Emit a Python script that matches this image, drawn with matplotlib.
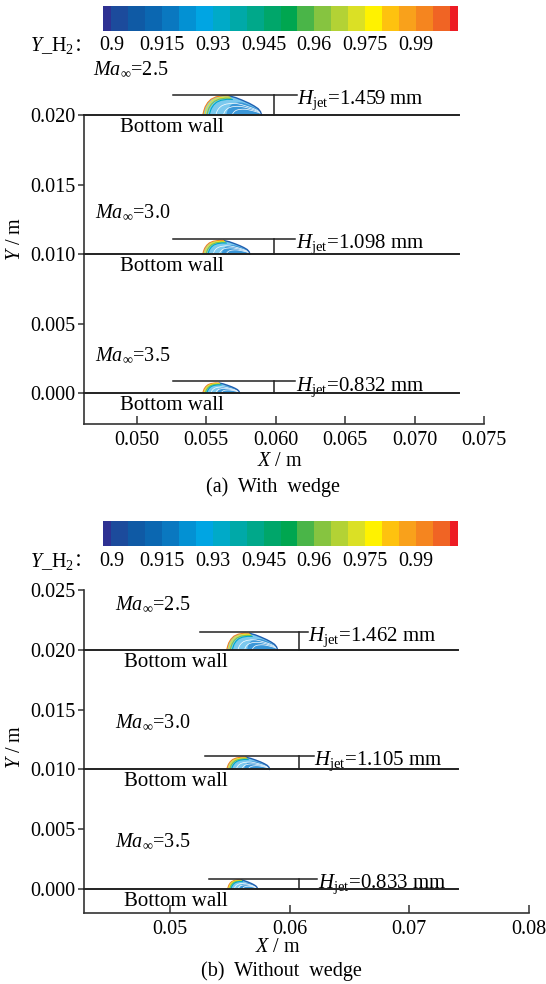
import numpy as np
import matplotlib
matplotlib.use('Agg')
import matplotlib.pyplot as plt

plt.rcParams['font.family'] = ['Liberation Serif', 'Noto Sans CJK SC']
plt.rcParams['mathtext.fontset'] = 'custom'
plt.rcParams['mathtext.rm'] = 'Liberation Serif'
plt.rcParams['mathtext.it'] = 'Liberation Serif:italic'
plt.rcParams['font.size'] = 14.5

# ---- дані ----
mach = ['2.5', '3.0', '3.5']
wall_y = [0.020, 0.010, 0.000]

# (a) з клином
hjet_a = [1.459, 1.098, 0.832]          # мм
plume_x0_a = [0.05475, 0.05475, 0.05475]
plume_len_a = [0.00424, 0.00340, 0.00266]
plume_h_a = [0.00142, 0.00100, 0.00074]
hline_x_a = [(0.0526, 0.0615), (0.0526, 0.0614), (0.0526, 0.0614)]
hbar_x_a = 0.0599
ma_pos_a = [(0.04685, 0.02324), (0.0470, 0.01295), (0.0470, 0.00266)]

# (b) без клина
hjet_b = [1.462, 1.105, 0.833]
plume_x0_b = [0.05475, 0.05475, 0.05483]
plume_len_b = [0.00425, 0.00360, 0.00250]
plume_h_b = [0.00142, 0.00104, 0.00078]
hline_x_b = [(0.0525, 0.0615), (0.0529, 0.0620), (0.0533, 0.0623)]
hbar_x_b = 0.0608
ma_pos_b = [(0.0454, 0.02376), (0.0454, 0.01393), (0.0454, 0.00393)]

# форма струменя (частки довжини / висоти)
shape_x = [0, 0.017, 0.04, 0.084, 0.14, 0.225, 0.34, 0.45, 0.56, 0.67, 0.79, 0.87, 0.94, 0.98, 1.0]
shape_y = [0, 0.20, 0.41, 0.63, 0.80, 0.92, 0.98, 0.97, 0.88, 0.75, 0.59, 0.46, 0.32, 0.17, 0]

# шкала Y_H2
cbar_bounds = [0.8975] + [round(0.9 + 0.005 * i, 4) for i in range(21)] + [1.0025]
cbar_colors = ['#2e3192', '#1c4b9c', '#0f5aa5', '#0b67b1', '#0a78c0', '#0391d3',
               '#00a5e3', '#00aac8', '#00a9a8', '#00a88a', '#00a66a', '#00a650',
               '#4ab548', '#86c440', '#b3d235', '#dbe025', '#fff200', '#fec20f',
               '#f9a11b', '#f5851f', '#f06424', '#ed1c24']
cbar_ticks = [0.9, 0.915, 0.93, 0.945, 0.96, 0.975, 0.99]
cbar_labels = ['0.9', '0.915', '0.93', '0.945', '0.96', '0.975', '0.99']

W, H = 546, 984
fig = plt.figure(figsize=(W / 100, H / 100), dpi=100)


def fx(px):
    return px / W


def fy(py):
    return 1 - py / H


def colorbar(top):
    ax = fig.add_axes([fx(103), fy(top + 25), fx(355), 25 / H])
    b = np.array(cbar_bounds)
    ax.bar(b[:-1], 1, width=np.diff(b), color=cbar_colors, align='edge', lw=0)
    ax.set_xlim(b[0], b[-1])
    ax.set_ylim(0, 1)
    ax.axis('off')
    for v, s in zip(cbar_ticks, cbar_labels):
        ax.text(v, -0.6, s, transform=ax.get_xaxis_transform(), ha='center', va='center')
    t = fig.text(fx(30), fy(top + 40), r'$Y$_H$_2$', ha='left', va='center')
    fig.add_artist(matplotlib.text.Annotation('：', xy=(1, 0.5), xycoords=t, va='center',
                                              ha='left', family=['Noto Sans CJK SC'], fontsize=13))


def draw_plume(ax, x0, L, h, yb):
    sx = np.array(shape_x)
    sy = np.array(shape_y)
    X = x0 + sx * L
    Y = yb + sy * h
    ax.fill(X, Y, color='#7cc9ee', lw=0, clip_on=False, zorder=3)
    # права частина - синя
    Xi = x0 + 0.4 * L + sx * 0.6 * L
    Yi = yb + sy * 0.65 * h
    ax.fill(Xi, Yi, color='#3b97d8', lw=0, clip_on=False, zorder=3)
    for d, f in [(0.22, 0.6), (0.35, 0.45), (0.5, 0.3)]:
        ax.plot(x0 + d * L + sx * (1 - d) * L, yb + sy * f * h, color='white', lw=0.5,
                clip_on=False, zorder=4)
    m = sx >= 0.4
    ax.plot(X[m], Y[m], color='#1f5fb0', lw=1.0, clip_on=False, zorder=5)
    # ліві райдужні дуги
    arcs = [('#f5851f', 0.0, 1.0), ('#f5e51e', 0.035, 0.93), ('#86c440', 0.07, 0.87),
            ('#00a9c8', 0.11, 0.81)]
    k = sx <= 0.5
    for c, d, f in arcs:
        ax.plot(x0 + d * L + sx[k] * (1 - d) * L, yb + sy[k] * f * h, color=c, lw=0.8,
                clip_on=False, zorder=5, solid_capstyle='butt')


def panel(ax, xlim, ylim, xticks, xfmt, yticks, wall_end, hjet, x0s, lens, hs,
          hlines, hbar, ma_pos, bw_x):
    ax.set_xlim(*xlim)
    ax.set_ylim(*ylim)
    for s in ['top', 'right']:
        ax.spines[s].set_visible(False)
    for s in ['left', 'bottom']:
        ax.spines[s].set_linewidth(1.2)
        ax.spines[s].set_color('#333333')
    ax.set_xticks(xticks)
    ax.set_xticklabels([xfmt % v for v in xticks])
    ax.set_yticks(yticks)
    ax.set_yticklabels(['%.3f' % v for v in yticks])
    ax.tick_params(axis='x', direction='in', length=6, width=1.1, pad=5, color='#333333')
    ax.tick_params(axis='y', direction='out', length=4, width=1.1, pad=2, color='#333333')
    for i, yb in enumerate(wall_y):
        ax.plot([xlim[0], wall_end], [yb, yb], color='#222222', lw=1.4, clip_on=False, zorder=6)
        draw_plume(ax, x0s[i], lens[i], hs[i], yb)
        yh = yb + hjet[i] / 1000
        ax.plot(hlines[i], [yh, yh], color='#222222', lw=1.1, clip_on=False, zorder=6)
        ax.plot([hbar, hbar], [yb, yh], color='#222222', lw=1.1, clip_on=False, zorder=6)
        ax.annotate(r'$H_{\rm jet}$=%.3f mm' % hjet[i], xy=(hlines[i][1], yh),
                    xytext=(0.5, 4.6), textcoords='offset points', ha='left', va='top',
                    fontsize=15, annotation_clip=False)
        ax.text(ma_pos[i][0], ma_pos[i][1], r'$Ma_{\infty}$=' + mach[i], ha='left',
                va='center', fontsize=14.5, clip_on=False)
        ax.annotate('Bottom wall', xy=(bw_x, yb), xytext=(0, -2), textcoords='offset points',
                    ha='left', va='top', fontsize=15, annotation_clip=False)


# (a)
colorbar(6)
axa = fig.add_axes([fx(84), fy(424), fx(400), 309 / H])
panel(axa, (0.0462, 0.075), (-0.00223, 0.020), [0.050, 0.055, 0.060, 0.065, 0.070, 0.075],
      '%.3f', [0.0, 0.005, 0.010, 0.015, 0.020], 0.0732, hjet_a, plume_x0_a, plume_len_a,
      plume_h_a, hline_x_a, hbar_x_a, ma_pos_a, 0.0488)
fig.text(fx(16), fy(239), r'$Y$ / m', rotation=90, ha='center', va='center')
fig.text(fx(280), fy(461), r'$X$ / m', ha='center', va='center')
fig.text(fx(273), fy(487), '(a)  With  wedge', ha='center', va='center')

# (b)
colorbar(521)
axb = fig.add_axes([fx(84), fy(913), fx(445), 323 / H])
panel(axb, (0.04283, 0.08), (-0.00201, 0.025), [0.05, 0.06, 0.07, 0.08], '%.2f',
      [0.0, 0.005, 0.010, 0.015, 0.020, 0.025], 0.0741, hjet_b, plume_x0_b, plume_len_b,
      plume_h_b, hline_x_b, hbar_x_b, ma_pos_b, 0.0462)
fig.text(fx(16), fy(747), r'$Y$ / m', rotation=90, ha='center', va='center')
fig.text(fx(278), fy(947), r'$X$ / m', ha='center', va='center')
fig.text(fx(281), fy(971), '(b)  Without  wedge', ha='center', va='center')

fig.savefig('out.png', dpi=100, facecolor='white')
